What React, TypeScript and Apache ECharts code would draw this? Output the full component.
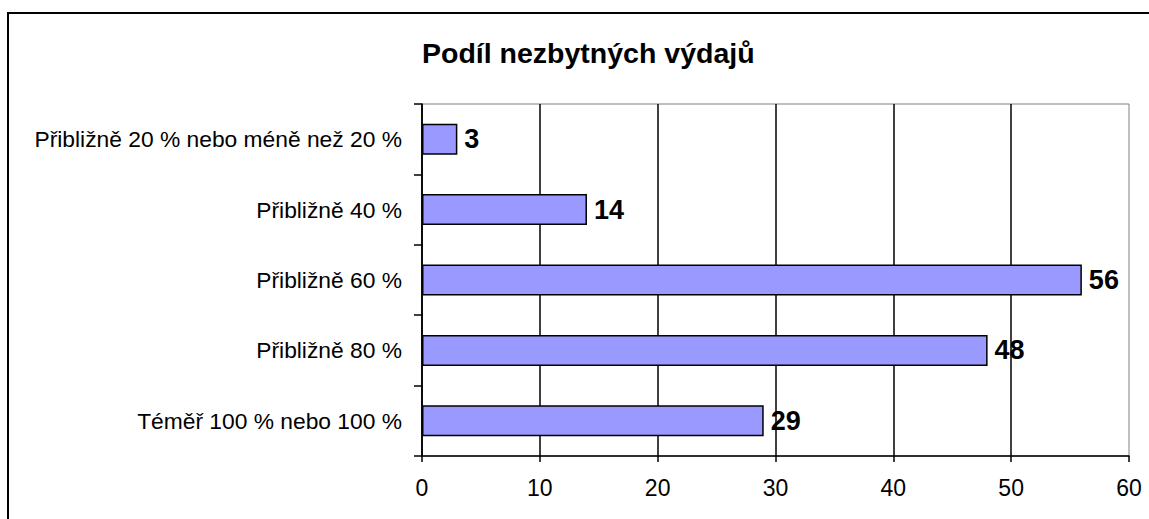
import React, { useEffect, useRef } from "react";
import * as echarts from "echarts";

const categories = [
  "Přibližně 20 % nebo méně než 20 %",
  "Přibližně 40 %",
  "Přibližně 60 %",
  "Přibližně 80 %",
  "Téměř 100 % nebo 100 %",
];
const values = [3, 14, 56, 48, 29];
const titleText = "Podíl nezbytných výdajů";

export default function App() {
  const ref = useRef<HTMLDivElement>(null);
  useEffect(() => {
    document.body.style.margin = "0";
    const chart = echarts.init(ref.current!, null, { renderer: "svg" });
    const font = "'Liberation Sans', Arial, sans-serif";
    chart.setOption({
      animation: false,
      backgroundColor: "#fff",
      title: {
        text: titleText,
        left: 417,
        top: 33,
        textStyle: { fontFamily: font, fontSize: 28.5, fontWeight: "bold", color: "#000" },
      },
      graphic: [
        {
          type: "rect",
          shape: { x: 8, y: 13, width: 1200, height: 600 },
          style: { fill: "none", stroke: "#000", lineWidth: 2 },
          silent: true,
        },
      ],
      grid: {
        left: 422,
        top: 104,
        width: 707,
        height: 352,
        show: true,
        borderColor: "#808080",
        borderWidth: 1,
        backgroundColor: "transparent",
      },
      xAxis: {
        type: "value",
        min: 0,
        max: 60,
        interval: 10,
        axisLine: { show: true, lineStyle: { color: "#000", width: 1.5 } },
        axisTick: { show: true, length: 6, lineStyle: { color: "#000", width: 1.5 } },
        splitLine: { show: true, showMaxLine: false, lineStyle: { color: "#000", width: 1.5 } },
        axisLabel: { fontFamily: font, fontSize: 23, color: "#000", margin: 20 },
      },
      yAxis: {
        type: "category",
        inverse: true,
        data: categories,
        axisLine: { show: true, lineStyle: { color: "#000", width: 1.5 } },
        axisTick: { show: true, length: 8, lineStyle: { color: "#000", width: 1.5 } },
        axisLabel: { fontFamily: font, fontSize: 22.8, color: "#000", margin: 20 },
      },
      series: [
        {
          type: "bar",
          data: values,
          barWidth: 31,
          itemStyle: { color: "#9999ff", borderColor: "#000", borderWidth: 1.5 },
          label: {
            show: true,
            position: "right",
            distance: 7,
            fontFamily: font,
            fontSize: 27,
            fontWeight: "bold",
            color: "#000",
          },
        },
      ],
    });
    return () => chart.dispose();
  }, []);
  return <div ref={ref} style={{ width: 1149, height: 519, position: "absolute", left: 0, top: 0 }} />;
}
